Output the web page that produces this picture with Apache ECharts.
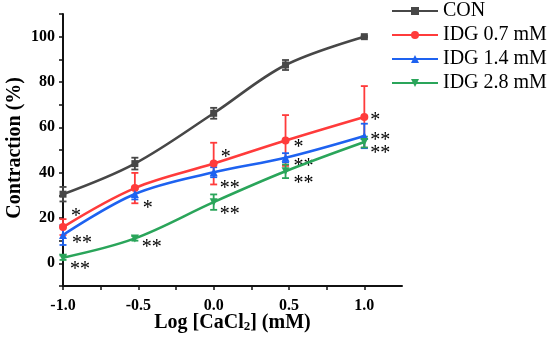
<!DOCTYPE html>
<html>
<head>
<meta charset="utf-8">
<script src="https://cdn.jsdelivr.net/npm/echarts@6/dist/echarts.min.js"></script>
<style>html,body{margin:0;padding:0;background:#fff}#c{width:550px;height:343px}</style>
</head>
<body>
<div id="c"></div>
<script>
// ---- data ----
var logCa = [-1.0, -0.523, 0.0, 0.477, 1.0];
var seriesNames = ['CON', 'IDG 0.7 mM', 'IDG 1.4 mM', 'IDG 2.8 mM'];
var conMean = [30.5, 44, 66.2, 87.5, 100];
var conErr  = [3.2, 2.6, 2.4, 2.2, 0.3];
var idg07Mean = [16, 33.2, 44, 54.2, 64.6];
var idg07Err  = [3.5, 6.7, 9.2, 11.2, 13.6];
var idg14Mean = [12.5, 30.6, 40.2, 46.6, 56.2];
var idg14Err  = [4.4, 2.4, 2.2, 2.0, 5.4];
var idg28Mean = [2.5, 11, 27, 40.6, 53.5];
var idg28Err  = [1.0, 1.0, 3.4, 3.0, 2.4];
var idg07Sig = ['*', '', '*', '*', '*'];
var idg14Sig = ['**', '*', '**', '**', '**'];
var idg28Sig = ['**', '**', '**', '**', '**'];
var xTicks = [-1.0, -0.5, 0.0, 0.5, 1.0];
var yTicks = [0, 20, 40, 60, 80, 100];

// ---- styles ----
var colors = ['#474747', '#FF3B3B', '#1E62F0', '#2AA55A'];
var symbols = ['rect', 'circle', 'triangle', 'triangle'];
var symbolRot = [0, 0, 0, 180];
var sigOffsets = [
  null,
  [[4, -10], [0, 0], [3, -6], [4, 7], [2, 4]],
  [[5, 9], [4, 15], [2, 17], [4, 9], [2, 5]],
  [[3, 12], [3, 9], [2, 13], [4, 12], [2, 12]]
];
var FONT = '"Liberation Serif", "Times New Roman", serif';

var means = [conMean, idg07Mean, idg14Mean, idg28Mean];
var errs = [conErr, idg07Err, idg14Err, idg28Err];
var sigs = [null, idg07Sig, idg14Sig, idg28Sig];

function lineData(i) {
  return logCa.map(function (x, k) {
    var item = { value: [x, means[i][k]] };
    if (sigs[i] && sigs[i][k]) {
      item.label = {
        show: true,
        formatter: sigs[i][k],
        position: 'right',
        distance: 0,
        offset: sigOffsets[i][k],
        color: '#000',
        fontFamily: FONT,
        fontSize: 20
      };
    }
    return item;
  });
}
function errData(i) {
  return logCa.map(function (x, k) { return [x, means[i][k], errs[i][k]]; });
}

var series = [];
for (var i = 0; i < 4; i++) {
  (function (i) {
    series.push({
      type: 'custom',
      name: seriesNames[i] + ' error',
      data: errData(i),
      encode: { x: 0, y: 1 },
      z: 2 + i,
      silent: true,
      itemStyle: { color: colors[i] },
      renderItem: function (params, api) {
        var x = api.value(0), y = api.value(1), e = api.value(2);
        var top = api.coord([x, y + e]);
        var bot = api.coord([x, y - e]);
        var hw = 3.5;
        var st = { stroke: colors[i], lineWidth: 1.8 };
        return {
          type: 'group',
          children: [
            { type: 'line', shape: { x1: top[0], y1: top[1], x2: bot[0], y2: bot[1] }, style: st },
            { type: 'line', shape: { x1: top[0] - hw, y1: top[1], x2: top[0] + hw, y2: top[1] }, style: st },
            { type: 'line', shape: { x1: bot[0] - hw, y1: bot[1], x2: bot[0] + hw, y2: bot[1] }, style: st }
          ]
        };
      }
    });
    series.push({
      type: 'line',
      name: seriesNames[i],
      data: lineData(i),
      smooth: 0.35,
      symbol: symbols[i],
      symbolRotate: symbolRot[i],
      symbolSize: i === 0 ? 7 : 8,
      showAllSymbol: true,
      z: 3 + i,
      color: colors[i],
      itemStyle: { color: colors[i] },
      lineStyle: { color: colors[i], width: 2.6 }
    });
  })(i);
}

var chart = echarts.init(document.getElementById('c'), null, { renderer: 'canvas' });
chart.setOption({
  animation: false,
  backgroundColor: '#fff',
  grid: { left: 63, right: 148, top: 14, bottom: 57, containLabel: false },
  legend: {
    data: seriesNames,
    orient: 'vertical',
    left: 391,
    top: 1,
    padding: 0,
    itemWidth: 46,
    itemHeight: 10,
    itemGap: 4,
    textStyle: { fontFamily: FONT, fontSize: 20, color: '#000', padding: [0, 0, 0, 0] }
  },
  xAxis: {
    type: 'value',
    min: -1.0,
    max: 1.25,
    interval: 0.25,
    name: 'Log [CaCl{sub|2}] (mM)',
    nameLocation: 'middle',
    nameGap: 27,
    nameMoveOverlap: false,
    nameTextStyle: {
      fontFamily: FONT, fontSize: 20, fontWeight: 'bold', color: '#000', lineHeight: 20,
      rich: { sub: { fontFamily: FONT, fontSize: 13, fontWeight: 'bold', color: '#000', lineHeight: 20, verticalAlign: 'bottom' } }
    },
    axisLine: { onZero: false, lineStyle: { color: '#111', width: 2 } },
    axisTick: { show: true, inside: false, length: 4, lineStyle: { color: '#111', width: 1.5 } },
    splitLine: { show: false },
    axisLabel: {
      fontFamily: FONT, fontSize: 16, fontWeight: 'bold', color: '#000', margin: 12,
      showMaxLabel: false,
      formatter: function (v) {
        for (var t = 0; t < xTicks.length; t++) {
          if (Math.abs(v - xTicks[t]) < 1e-6) return xTicks[t].toFixed(1);
        }
        return '';
      }
    }
  },
  yAxis: {
    type: 'value',
    min: -10,
    max: 110,
    interval: 10,
    axisLine: { show: true, onZero: false, lineStyle: { color: '#111', width: 2 } },
    axisTick: { show: true, inside: false, length: 4, lineStyle: { color: '#111', width: 1.5 } },
    splitLine: { show: false },
    axisLabel: {
      fontFamily: FONT, fontSize: 16, fontWeight: 'bold', color: '#000', margin: 8,
      formatter: function (v) {
        for (var t = 0; t < yTicks.length; t++) {
          if (Math.abs(v - yTicks[t]) < 1e-6) return String(yTicks[t]);
        }
        return '';
      }
    }
  },
  graphic: [{
    type: 'text',
    left: 5,
    top: 77,
    style: {
      text: 'Contraction (%)',
      fontFamily: FONT, fontSize: 20, fontWeight: 'bold', fill: '#000'
    },
    rotation: Math.PI / 2
  }],
  series: series
});
</script>
</body>
</html>
